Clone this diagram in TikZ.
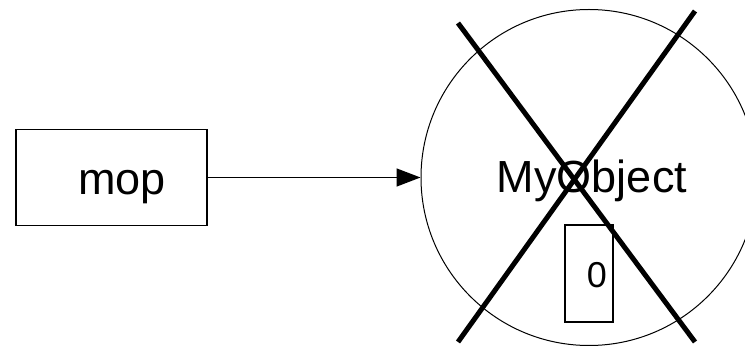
\documentclass[tikz,border=0pt]{standalone}
\usepackage{fontspec}
\setmainfont{Liberation Sans}
\usetikzlibrary{arrows.meta}
\begin{document}
\begin{tikzpicture}[x=1pt,y=-1pt,
  boxstyle/.style={draw, line width=1.5pt, inner sep=0pt, rectangle},
  label text/.style={font=\fontsize{45}{54}\selectfont, inner sep=0pt, anchor=base},
  small text/.style={font=\fontsize{36}{43}\selectfont, inner sep=0pt, anchor=base},
  cross/.style={line width=5pt}]
  \useasboundingbox (0,0) rectangle (745,347);
  % reference variable
  \node[boxstyle, minimum width=191pt, minimum height=96pt] (mopbox) at (111.5,177.5) {};
  \node[label text] (moptext) at (122,195) {mop};
  % object
  \node[draw, circle, line width=1pt, minimum size=336pt, inner sep=0pt] (obj) at (589,177.5) {};
  \node[label text] (objtext) at (592,193) {MyObject};
  \node[boxstyle, minimum width=48pt, minimum height=97pt] (cnt) at (589,273.5) {};
  \node[small text] (cnttext) at (597,288) {0};
  % reference arrow
  \draw[line width=1.5pt, -{Triangle[length=24pt,width=18pt]}] (mopbox.east) -- (obj.west);
  % object crossed out
  \coordinate (xa) at (458,23);
  \coordinate (xb) at (695,342);
  \coordinate (xc) at (695,11);
  \coordinate (xd) at (458,342);
  \draw[cross] (xa) -- (xb);
  \draw[cross] (xc) -- (xd);
\end{tikzpicture}
\end{document}
